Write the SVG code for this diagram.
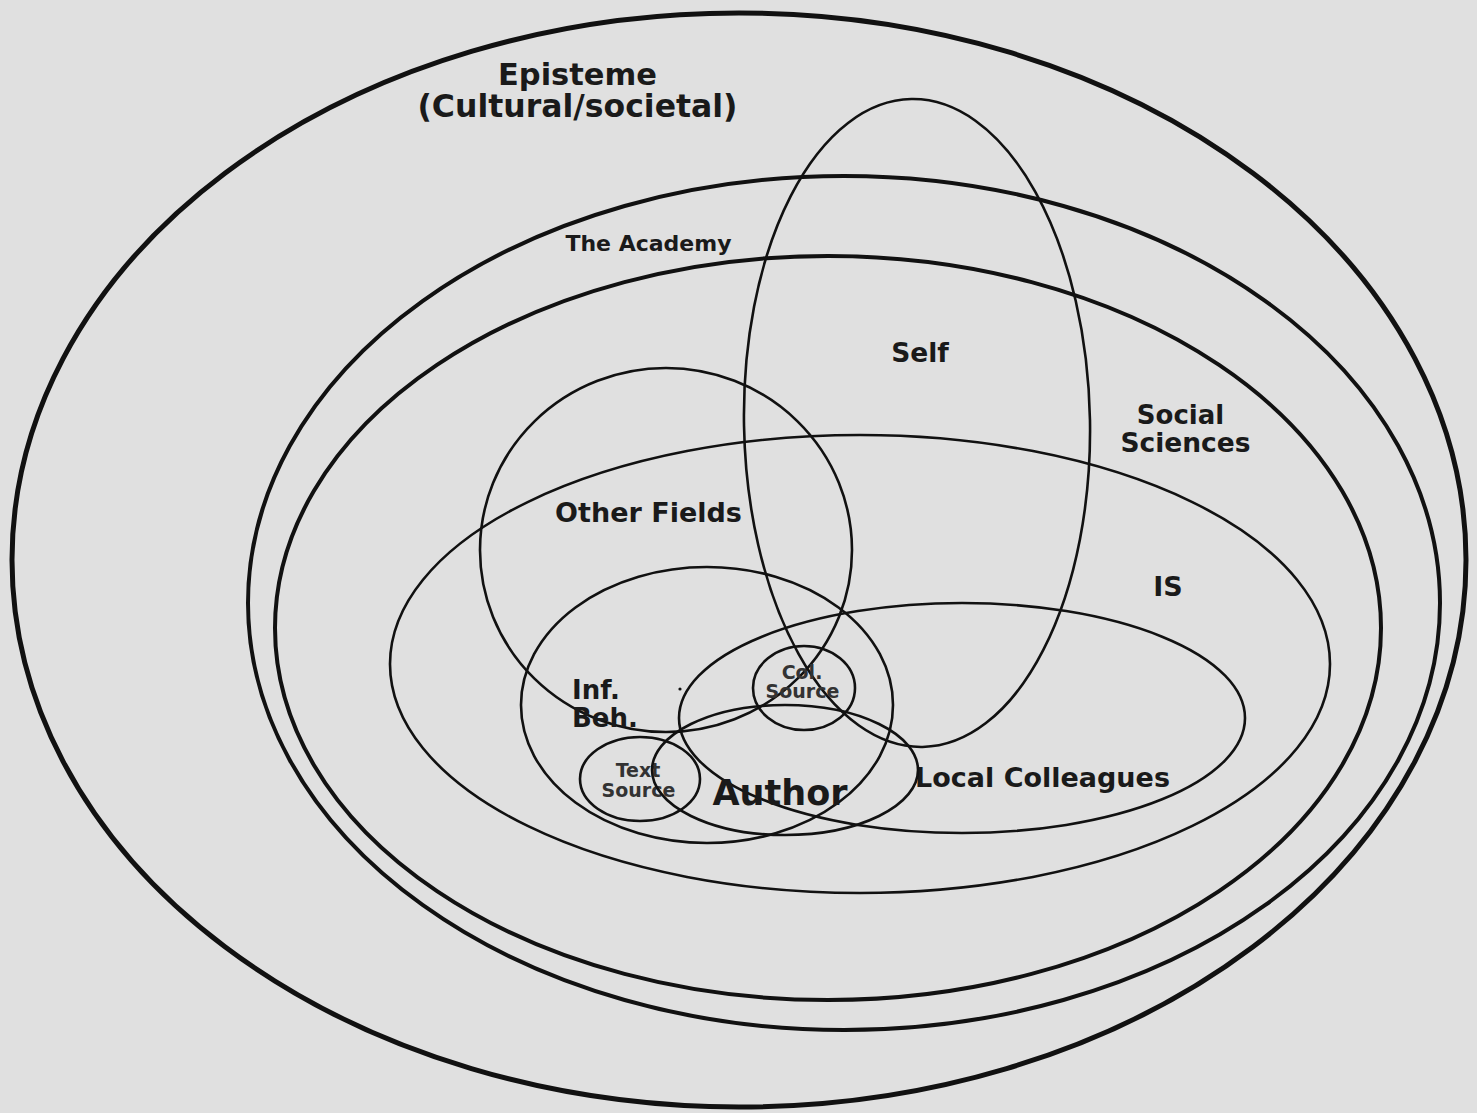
<svg xmlns="http://www.w3.org/2000/svg" width="1477" height="1113" viewBox="0 0 1477 1113">
<style>
.e{fill:none;stroke:#111;}
.thick{stroke-width:5;}
.mid{stroke-width:4;}
.thin{stroke-width:2.6;}
.t{font-family:"DejaVu Sans",Verdana,sans-serif;font-weight:bold;fill:#1a1a1a;text-anchor:middle;}
.s{fill:#333;}
</style>
<rect width="1477" height="1113" fill="#e0e0e0"/>
<g id="episteme">
<ellipse class="e thick" cx="739" cy="560" rx="727" ry="547"/>
<text class="t" x="577.5" y="85" font-size="30.5">Episteme</text>
<text class="t" x="577.5" y="117" font-size="31.5">(Cultural/societal)</text>
</g>
<g id="academy">
<ellipse class="e mid" cx="844" cy="603" rx="596" ry="427"/>
<text class="t" x="648.5" y="251" font-size="22">The Academy</text>
</g>
<g id="social-sciences">
<ellipse class="e mid" cx="828" cy="628" rx="553" ry="372"/>
<text class="t" x="1180.5" y="424" font-size="26">Social</text>
<text class="t" x="1185.5" y="452" font-size="26.5">Sciences</text>
</g>
<g id="is">
<ellipse class="e thin" cx="860" cy="664" rx="470" ry="229"/>
<text class="t" x="1168" y="596" font-size="27">IS</text>
</g>
<g id="self">
<ellipse class="e thin" cx="917" cy="423" rx="173" ry="324" transform="rotate(-1 917 423)"/>
<text class="t" x="920" y="362" font-size="26.5">Self</text>
</g>
<g id="other-fields">
<ellipse class="e thin" cx="666" cy="550" rx="186" ry="182"/>
<text class="t" x="648.5" y="522" font-size="27">Other Fields</text>
</g>
<g id="inf-beh">
<ellipse class="e thin" cx="707" cy="705" rx="186" ry="138"/>
<text class="t" x="572" y="699" font-size="26" style="text-anchor:start">Inf.</text>
<text class="t" x="572" y="727" font-size="26" style="text-anchor:start">Beh.</text>
<circle cx="680" cy="689" r="1.6" fill="#111"/>
</g>
<g id="local-colleagues">
<ellipse class="e thin" cx="962" cy="718" rx="283" ry="115"/>
<text class="t" x="1042.5" y="787" font-size="27">Local Colleagues</text>
</g>
<g id="col-source">
<ellipse class="e thin" cx="804" cy="688" rx="51" ry="42"/>
<text class="t s" x="802" y="679" font-size="19">Col.</text>
<text class="t s" x="802.5" y="698" font-size="19">Source</text>
</g>
<g id="text-source">
<ellipse class="e thin" cx="640" cy="779" rx="60" ry="42"/>
<text class="t s" x="638" y="777" font-size="19">Text</text>
<text class="t s" x="638.5" y="797" font-size="19">Source</text>
</g>
<g id="author">
<ellipse class="e thin" cx="785" cy="770" rx="133" ry="65"/>
<text class="t" x="780" y="805" font-size="35">Author</text>
</g>
<g id="connectors"></g>
</svg>
